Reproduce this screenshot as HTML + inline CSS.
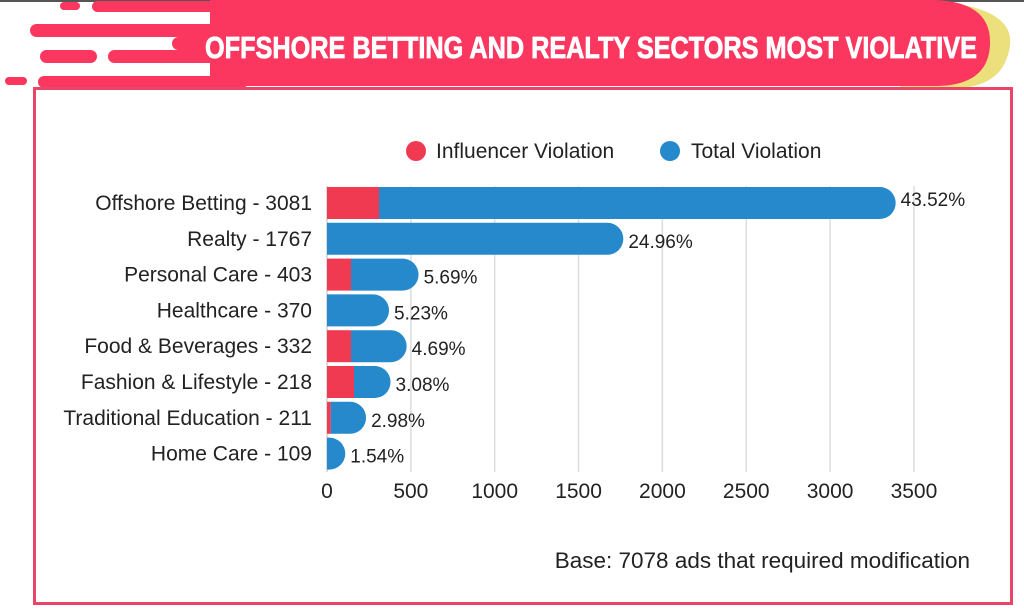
<!DOCTYPE html>
<html><head><meta charset="utf-8"><style>
body{margin:0;background:#fff;width:1024px;height:610px;overflow:hidden;font-family:"Liberation Sans",sans-serif}
</style></head><body>
<svg id="chart" width="1024" height="610" xmlns="http://www.w3.org/2000/svg">
<g>
<rect x="0" y="0" width="1024" height="2" fill="#555"/>
<path d="M900 0 Q1015 0 1010 45 Q1005 85 960 88 L900 88 Z" fill="#ebe07c"/>
<path d="M210 0 L930 0 Q992 0 990 45 Q988 86 935 86 L210 86 Z" fill="#fb375f"/>
<rect x="92" y="1" width="160" height="11" rx="5.5" fill="#fb375f"/>
<rect x="60" y="2" width="20" height="8" rx="4" fill="#fb375f"/>
<rect x="30" y="24" width="220" height="13" rx="6.5" fill="#fb375f"/>
<rect x="172" y="37" width="80" height="13" rx="6.5" fill="#fb375f"/>
<rect x="40" y="50" width="57" height="13" rx="6.5" fill="#fb375f"/>
<rect x="108" y="50" width="140" height="13" rx="6.5" fill="#fb375f"/>
<rect x="38" y="76" width="210" height="12" rx="6" fill="#fb375f"/>
<rect x="5" y="77" width="22" height="8" rx="4" fill="#fb375f"/>
<text x="591" y="58" text-anchor="middle" font-family="'Liberation Sans Narrow','Liberation Sans',sans-serif" font-weight="bold" font-size="31" fill="#fff" stroke="#fff" stroke-width="0.8" textLength="772" lengthAdjust="spacingAndGlyphs">OFFSHORE BETTING AND REALTY SECTORS MOST VIOLATIVE</text>
</g>
<rect x="34.5" y="88.5" width="977" height="515" fill="none" stroke="#ea4468" stroke-width="3"/>
<g>
<g><circle cx="416" cy="151" r="10" fill="#ef3a52"/><text x="436" y="158" font-size="21" fill="#222">Influencer Violation</text></g>
<g><circle cx="670" cy="151" r="10" fill="#2589cc"/><text x="691" y="158" font-size="21" fill="#222">Total Violation</text></g>
</g>
<g id="grid"></g><g id="bars"></g><g id="labels"></g>
<text x="970" y="568" text-anchor="end" font-size="22.5" fill="#222">Base: 7078 ads that required modification</text>
</svg>
<script>
const categories=["Offshore Betting - 3081","Realty - 1767","Personal Care - 403","Healthcare - 370","Food & Beverages - 332","Fashion & Lifestyle - 218","Traditional Education - 211","Home Care - 109"];
const influencer=[310,0,143,0,143,161,22,0];
const total=[3081,1767,403,370,332,218,211,109];
const pctLabels=["43.52%","24.96%","5.69%","5.23%","4.69%","3.08%","2.98%","1.54%"];
const ticks=[0,500,1000,1500,2000,2500,3000,3500];
const NS="http://www.w3.org/2000/svg";
const x=v=>327+v*0.1677;
const y=i=>203+i*35.8;
const H=32;
function mk(t,a,p){const e=document.createElementNS(NS,t);for(const k in a)e.setAttribute(k,a[k]);p.appendChild(e);return e;}
const grid=document.getElementById('grid'),bars=document.getElementById('bars'),labels=document.getElementById('labels');
ticks.forEach(t=>{
 const l=mk('line',{x1:x(t),x2:x(t),y1:186,y2:472,stroke:'#ddd','stroke-width':1.5},grid);
 
 
 const tx=mk('text',{x:x(t),y:498,'text-anchor':'middle','font-size':21,fill:'#222'},labels);
 tx.textContent=t;
 
 
});
categories.forEach((c,i)=>{
 const cy=y(i),top=cy-H/2,r=H/2;
 const x0=x(0),xi=x(influencer[i]),xe=x(influencer[i]+total[i]);
 const p=mk('path',{d:`M${xi} ${top} L${xe-r} ${top} A${r} ${r} 0 0 1 ${xe-r} ${top+H} L${xi} ${top+H} Z`,fill:'#2589cc'},bars);
 
 
 if(influencer[i]>0){
  const b=mk('rect',{x:x0,y:top,width:xi-x0,height:H,fill:'#ef3a52'},bars);
  
  
 }
 const lb=mk('text',{x:312,y:cy+7,'text-anchor':'end','font-size':21,fill:'#222'},labels);
 lb.textContent=c;
 
 
 const pl=mk('text',{x:xe+5,y:cy+(i==0?3:9),'font-size':19,fill:'#222'},labels);
 pl.textContent=pctLabels[i];
 
 
});
mk('line',{x1:327,x2:327,y1:186,y2:472,stroke:'#ccc','stroke-width':1},grid);
</script>
</body></html>
